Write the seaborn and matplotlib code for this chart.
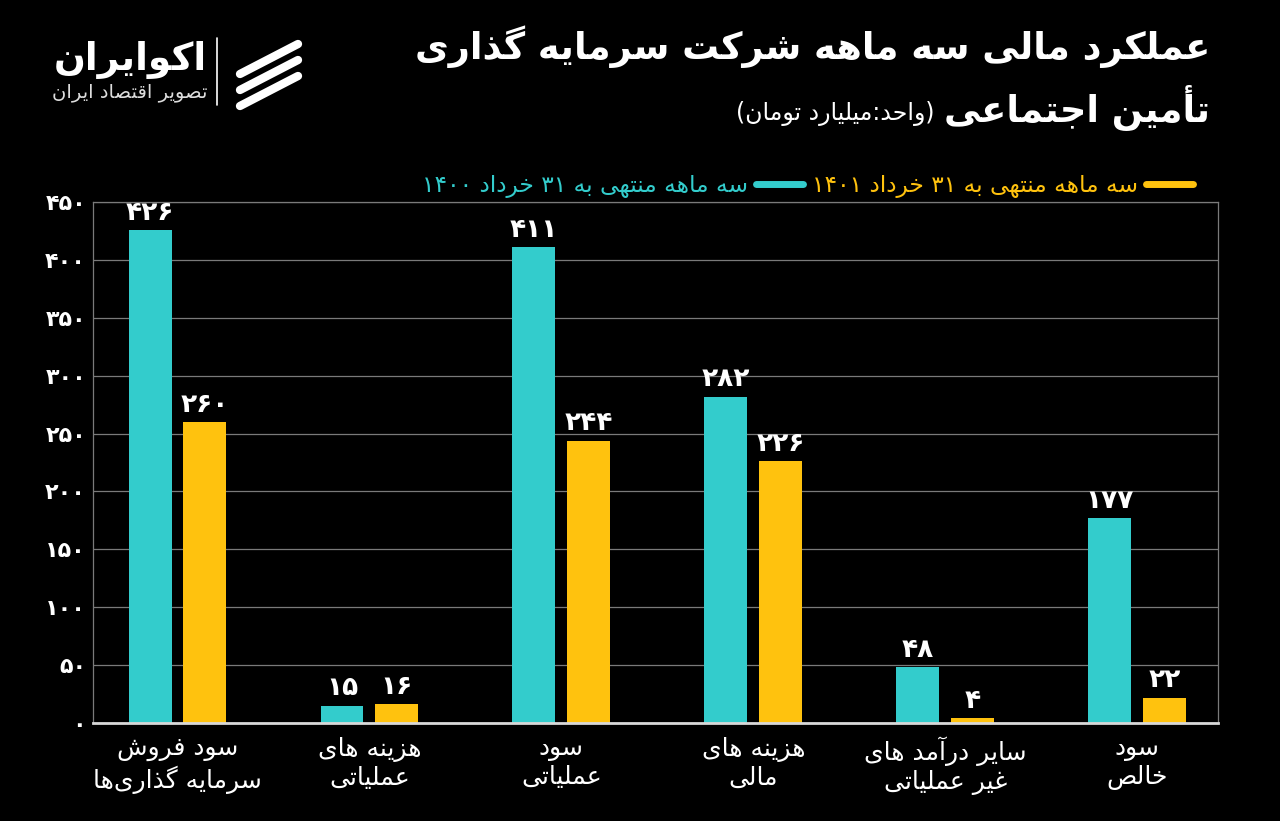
import re
import numpy as np
import pandas as pd
import seaborn as sns
import matplotlib
matplotlib.use("Agg")
import matplotlib.pyplot as plt
from matplotlib.lines import Line2D
from matplotlib.ticker import FuncFormatter

# ---------------- data ----------------
categories = ["سود فروش\nسرمایه گذاری‌ها", "هزینه های\nعملیاتی", "سود\nعملیاتی",
              "هزینه های\nمالی", "سایر درآمد های\nغیر عملیاتی", "سود\nخالص"]
values_1400 = [426, 15, 411, 282, 48, 177]
values_1401 = [260, 16, 244, 226, 4, 22]
series_names = ["1400", "1401"]
series_labels = ["سه ماهه منتهی به ۳۱ خرداد ۱۴۰۰", "سه ماهه منتهی به ۳۱ خرداد ۱۴۰۱"]
series_colors = ["#33CCCC", "#FFC20E"]
y_ticks = [0, 50, 100, 150, 200, 250, 300, 350, 400, 450]
title_line1 = "عملکرد مالی سه ماهه شرکت سرمایه گذاری"
title_line2 = "تأمین اجتماعی"
unit_text = "(واحد:میلیارد تومان)"
logo_name = "اکوایران"
logo_sub = "تصویر اقتصاد ایران"

# ---------------- minimal Arabic-script shaping ----------------
_TABLE = [(0x0621, 0xFE80, 1), (0x0622, 0xFE81, 2), (0x0623, 0xFE83, 2), (0x0624, 0xFE85, 2),
          (0x0625, 0xFE87, 2), (0x0626, 0xFE89, 4), (0x0627, 0xFE8D, 2), (0x0628, 0xFE8F, 4),
          (0x0629, 0xFE93, 2), (0x062A, 0xFE95, 4), (0x062B, 0xFE99, 4), (0x062C, 0xFE9D, 4),
          (0x062D, 0xFEA1, 4), (0x062E, 0xFEA5, 4), (0x062F, 0xFEA9, 2), (0x0630, 0xFEAB, 2),
          (0x0631, 0xFEAD, 2), (0x0632, 0xFEAF, 2), (0x0633, 0xFEB1, 4), (0x0634, 0xFEB5, 4),
          (0x0635, 0xFEB9, 4), (0x0636, 0xFEBD, 4), (0x0637, 0xFEC1, 4), (0x0638, 0xFEC5, 4),
          (0x0639, 0xFEC9, 4), (0x063A, 0xFECD, 4), (0x0641, 0xFED1, 4), (0x0642, 0xFED5, 4),
          (0x0643, 0xFED9, 4), (0x0644, 0xFEDD, 4), (0x0645, 0xFEE1, 4), (0x0646, 0xFEE5, 4),
          (0x0647, 0xFEE9, 4), (0x0648, 0xFEED, 2), (0x0649, 0xFEEF, 2), (0x064A, 0xFEF1, 4),
          (0x067E, 0xFB56, 4), (0x0686, 0xFB7A, 4), (0x0698, 0xFB8A, 2), (0x06A9, 0xFB8E, 4),
          (0x06AF, 0xFB92, 4), (0x06CC, 0xFBFC, 4)]
_START = {chr(a): b for a, b, t in _TABLE}
_TYPE = {chr(a): t for a, b, t in _TABLE}
_LAMALEF = {"\u0622": 0xFEF5, "\u0623": 0xFEF7, "\u0625": 0xFEF9, "\u0627": 0xFEFB}


def _shape_line(s):
    out = []
    i, n = 0, len(s)
    while i < n:
        c = s[i]
        if c not in _TYPE:
            out.append(c)
            i += 1
            continue
        prev = s[i - 1] if i > 0 else None
        jp = prev is not None and _TYPE.get(prev, 0) == 4
        if c == "\u0644" and i + 1 < n and s[i + 1] in _LAMALEF:
            base = _LAMALEF[s[i + 1]]
            out.append(chr(base + 1 if jp else base))
            i += 2
            continue
        nxt = s[i + 1] if i + 1 < n else None
        jn = _TYPE[c] == 4 and nxt is not None and _TYPE.get(nxt, 0) in (2, 4)
        b = _START[c]
        if _TYPE[c] == 1:
            f = b
        elif jp and jn:
            f = b + 3
        elif jp:
            f = b + 1
        elif jn:
            f = b + 2
        else:
            f = b
        out.append(chr(f))
        i += 1
    shaped = "".join(out).replace("\u200c", "")
    rev = shaped[::-1]
    rev = rev.translate(str.maketrans("()", ")("))
    rev = re.sub(r"[0-9\u06F0-\u06F9]+", lambda m: m.group(0)[::-1], rev)
    return rev


def fa(s):
    return "\n".join(_shape_line(line) for line in s.split("\n"))


def fa_num(v):
    return str(int(v)).translate(str.maketrans("0123456789", "۰۱۲۳۴۵۶۷۸۹"))


# ---------------- style ----------------
BG = "#000000"
sns.set_theme(style="dark")
plt.rcParams["font.family"] = ["DejaVu Sans"]
plt.rcParams["figure.facecolor"] = BG
plt.rcParams["axes.facecolor"] = BG

df = pd.DataFrame({
    "category": categories * 2,
    "series": [series_names[0]] * len(categories) + [series_names[1]] * len(categories),
    "value": values_1400 + values_1401,
})

fig = plt.figure(figsize=(12.8, 8.21), dpi=100)
ax = fig.add_axes([93 / 1280, 1 - 723 / 821, (1218 - 93) / 1280, (723 - 202) / 821])

sns.barplot(data=df, x="category", y="value", hue="series", order=categories,
            hue_order=series_names, palette=series_colors, width=0.572, gap=0.217,
            saturation=1, legend=False, linewidth=0, edgecolor="none", ax=ax)

ax.set_xlim(-0.44, 5.42)
ax.set_ylim(0, 450)
ax.set_yticks(y_ticks)
ax.yaxis.set_major_formatter(FuncFormatter(lambda v, p: fa_num(v)))
ax.set_xticks(range(len(categories)))
ax.set_xticklabels([fa(c) for c in categories], color="white", fontsize=18, linespacing=1.2)
ax.tick_params(axis="y", colors="white", labelsize=16, length=0, pad=5)
ax.tick_params(axis="x", colors="white", length=0, pad=10)
for lab in ax.get_yticklabels():
    lab.set_fontweight("bold")
ax.set_xlabel("")
ax.set_ylabel("")
ax.grid(axis="y", color="#7a7a7a", linewidth=0.9)
ax.grid(axis="x", visible=False)
ax.set_axisbelow(True)
for side in ["left", "right", "top"]:
    ax.spines[side].set_visible(True)
    ax.spines[side].set_color("#7a7a7a")
    ax.spines[side].set_linewidth(0.9)
ax.spines["bottom"].set_color("#d8d8d8")
ax.spines["bottom"].set_linewidth(2)

for cont, vals in zip(ax.containers, [values_1400, values_1401]):
    ax.bar_label(cont, labels=[fa_num(v) for v in vals], padding=3, color="white",
                 fontsize=19, fontweight="bold")

# legend (handle to the right of text, as in RTL)
handles = [Line2D([], [], color=c, linewidth=5, solid_capstyle="round") for c in series_colors]
fig.legend(handles, [fa(s) for s in series_labels], loc="center right",
           bbox_to_anchor=(1214 / 1280, 1 - 186 / 821), ncol=2, frameon=False,
           markerfirst=False, labelcolor=series_colors, fontsize=16.8, handlelength=2.0,
           handletextpad=0.35, columnspacing=0.4)

# titles
fig.text(1210 / 1280, 1 - 47 / 821, fa(title_line1), ha="right", va="center",
         color="white", fontsize=26.5, fontweight="bold")
fig.text(1210 / 1280, 1 - 108 / 821, fa(title_line2), ha="right", va="center",
         color="white", fontsize=26.5, fontweight="bold")
fig.text(935 / 1280, 1 - 114 / 821, fa(unit_text), ha="right", va="center",
         color="white", fontsize=17)

# logo
fig.text(207 / 1280, 1 - 60 / 821, fa(logo_name), ha="right", va="center",
         color="white", fontsize=27, fontweight="bold")
fig.text(207 / 1280, 1 - 93 / 821, fa(logo_sub), ha="right", va="center",
         color="#dddddd", fontsize=14)
fig.add_artist(Line2D([217 / 1280, 217 / 1280], [1 - 38 / 821, 1 - 105 / 821],
                      color="white", linewidth=1.2))
for k in range(3):
    y0 = 1 - (52 + k * 16) / 821
    fig.add_artist(Line2D([240 / 1280, 298 / 1280], [y0 - 22 / 821, y0 + 8 / 821],
                          color="white", linewidth=6, solid_capstyle="round"))

fig.savefig("out.png", dpi=100, facecolor=BG)
